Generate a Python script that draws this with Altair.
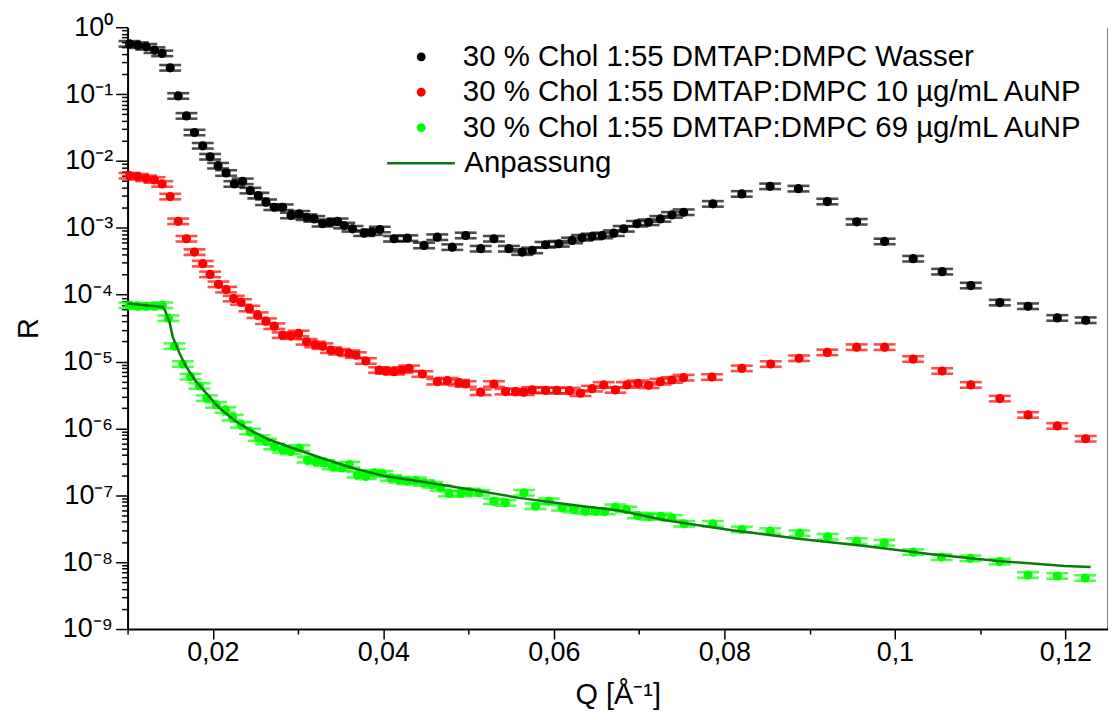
import json
import altair as alt
import pandas as pd

# ---------------- data ----------------
black_q = [0.01023, 0.01121, 0.01219, 0.01316, 0.01406, 0.0150, 0.01594, 0.01691, 0.01785, 0.01882,
           0.01968, 0.02062, 0.02156, 0.02253, 0.0235, 0.0244, 0.02534, 0.02624, 0.02721, 0.02819,
           0.02917, 0.03014, 0.031, 0.0319, 0.03287, 0.03374, 0.03463, 0.03541, 0.03638, 0.03775,
           0.03865, 0.03959, 0.04126, 0.04282, 0.04478, 0.04633, 0.04809, 0.04966, 0.05142, 0.05297,
           0.05473, 0.05629, 0.05746, 0.05903, 0.06059, 0.06214, 0.06331, 0.06448, 0.06566, 0.06703,
           0.0682, 0.06975, 0.07112, 0.07249, 0.07385, 0.07522, 0.07865, 0.08205, 0.08537, 0.08869,
           0.09208, 0.09552, 0.0988, 0.10215, 0.10555, 0.10891, 0.11231, 0.11562, 0.11905, 0.12238]
black_r = [0.564, 0.539, 0.509, 0.454, 0.406, 0.247, 0.0937, 0.0472, 0.0266, 0.01685,
           0.01155, 0.00849, 0.0066, 0.00453, 0.00495, 0.0036, 0.00303, 0.00241, 0.00203, 0.00203,
           0.00153, 0.00162, 0.00144, 0.00136, 0.00115, 0.00121, 0.00125, 0.00108, 0.000966, 0.000831,
           0.00086, 0.000943, 0.000686, 0.0007, 0.000545, 0.000724, 0.000514, 0.000768, 0.000487, 0.000686,
           0.000487, 0.000433, 0.000459, 0.000558, 0.000577, 0.000647, 0.00071, 0.000742, 0.000768, 0.000831,
           0.000966, 0.00115, 0.00121, 0.00136, 0.00156, 0.00171, 0.00228, 0.00321, 0.00417, 0.00385,
           0.00247, 0.00123, 0.000625, 0.000345, 0.000221, 0.000137, 7.62e-5, 6.72e-5, 4.49e-5, 4.15e-5]

red_q = [0.01023, 0.01121, 0.01219, 0.01316, 0.01406, 0.0150, 0.01594, 0.01691, 0.01785, 0.01882,
         0.01968, 0.02066, 0.02156, 0.02245, 0.02331, 0.02429, 0.02526, 0.02624, 0.02721, 0.02819,
         0.02917, 0.03006, 0.031, 0.03201, 0.03287, 0.03385, 0.03482, 0.036, 0.03678, 0.03795,
         0.03951, 0.04029, 0.04126, 0.04224, 0.04302, 0.04458, 0.04633, 0.04751, 0.04888, 0.04966,
         0.05142, 0.05297, 0.05434, 0.05552, 0.05649, 0.05746, 0.05903, 0.06035, 0.06184, 0.06313,
         0.06448, 0.06585, 0.06722, 0.06858, 0.06987, 0.07112, 0.07249, 0.07385, 0.07522, 0.07854,
         0.08205, 0.08544, 0.08877, 0.09208, 0.09552, 0.0988, 0.10215, 0.10555, 0.10891, 0.11231,
         0.11562, 0.11905, 0.12238]
red_r = [0.00602, 0.00581, 0.00549, 0.00519, 0.00453, 0.00293, 0.00125, 0.000686, 0.000433, 0.000291,
         0.000201, 0.000143, 0.000119, 8.75e-5, 7.78e-5, 6.21e-5, 4.93e-5, 4.01e-5, 3.38e-5, 2.48e-5,
         2.4e-5, 2.63e-5, 1.97e-5, 1.8e-5, 1.7e-5, 1.48e-5, 1.4e-5, 1.33e-5, 1.25e-5, 1.02e-5,
         7.47e-6, 7.22e-6, 7.05e-6, 7.47e-6, 7.91e-6, 6.51e-6, 5.0e-6, 5.17e-6, 4.83e-6, 4.62e-6,
         3.48e-6, 4.62e-6, 3.55e-6, 3.55e-6, 3.48e-6, 3.76e-6, 3.7e-6, 3.7e-6, 3.67e-6, 3.36e-6,
         3.93e-6, 4.47e-6, 3.76e-6, 4.47e-6, 4.73e-6, 4.42e-6, 5.0e-6, 5.3e-6, 5.74e-6, 5.87e-6,
         7.91e-6, 9.18e-6, 1.12e-5, 1.37e-5, 1.64e-5, 1.64e-5, 1.09e-5, 7.22e-6, 4.47e-6, 2.79e-6,
         1.59e-6, 1.09e-6, 7.0e-7]

green_q = [0.01023, 0.01121, 0.01219, 0.01316, 0.01406, 0.0148, 0.0155, 0.01648, 0.01738, 0.01843,
           0.01929, 0.02039, 0.02148, 0.02233, 0.02331, 0.02437, 0.02537, 0.02624, 0.02721, 0.02819,
           0.02917, 0.03014, 0.03111, 0.0321, 0.03307, 0.03404, 0.03514, 0.036, 0.03697, 0.03795,
           0.03892, 0.03989, 0.04088, 0.04185, 0.04282, 0.04381, 0.04478, 0.04575, 0.04673, 0.0477,
           0.04911, 0.05005, 0.05122, 0.05297, 0.05434, 0.05649, 0.05786, 0.05941, 0.06097, 0.06234,
           0.06371, 0.06488, 0.06597, 0.06722, 0.06851, 0.06984, 0.07121, 0.07256, 0.07385, 0.0753,
           0.07865, 0.08205, 0.08537, 0.08881, 0.09212, 0.09552, 0.09876, 0.10215, 0.10547, 0.10886,
           0.11231, 0.11562, 0.11905, 0.12233]
green_r = [6.95e-5, 6.72e-5, 6.72e-5, 6.72e-5, 6.95e-5, 4.45e-5, 1.7e-5, 9.18e-6, 5.94e-6, 4.31e-6,
           2.83e-6, 2.25e-6, 1.89e-6, 1.45e-6, 1.13e-6, 8.99e-7, 7.17e-7, 6.38e-7, 5.37e-7, 4.8e-7,
           4.52e-7, 5.09e-7, 3.4e-7, 3.21e-7, 3.04e-7, 2.7e-7, 2.56e-7, 2.87e-7, 2.03e-7, 1.92e-7,
           2.16e-7, 2.1e-7, 1.82e-7, 1.71e-7, 1.62e-7, 1.67e-7, 1.53e-7, 1.44e-7, 1.29e-7, 1.06e-7,
           1.06e-7, 1.14e-7, 1.09e-7, 8.14e-8, 7.7e-8, 1.09e-7, 6.86e-8, 8.14e-8, 6.49e-8, 6.12e-8,
           5.78e-8, 5.78e-8, 5.71e-8, 6.62e-8, 6.12e-8, 4.98e-8, 4.77e-8, 4.86e-8, 4.6e-8, 3.75e-8,
           3.75e-8, 3.08e-8, 2.91e-8, 2.71e-8, 2.4e-8, 2.06e-8, 1.95e-8, 1.41e-8, 1.19e-8, 1.14e-8,
           1.02e-8, 6.42e-9, 6.21e-9, 5.79e-9]

fit_q = [0.0100, 0.01413, 0.01439, 0.01492, 0.0153, 0.01609, 0.01687, 0.01804, 0.0194, 0.02077,
         0.02273, 0.02467, 0.02663, 0.02936, 0.03248, 0.03638, 0.04029, 0.04419, 0.05005, 0.0559,
         0.06176, 0.06761, 0.07308, 0.08088, 0.08869, 0.0965, 0.1043, 0.11211, 0.11992, 0.12296]
fit_r = [7.37e-5, 6.56e-5, 5.85e-5, 3.92e-5, 2.34e-5, 1.33e-5, 8.37e-6, 5.0e-6, 3.17e-6, 2.01e-6,
         1.27e-6, 8.99e-7, 6.76e-7, 5.09e-7, 3.71e-7, 2.56e-7, 1.92e-7, 1.62e-7, 1.23e-7, 9.15e-8,
         7.27e-8, 5.92e-8, 4.24e-8, 3.01e-8, 2.24e-8, 1.74e-8, 1.31e-8, 1.04e-8, 8.74e-9, 8.45e-9]

rel_err = [0.10, 0.10, 0.10]

series_names = ["30 % Chol 1:55 DMTAP:DMPC Wasser",
                "30 % Chol 1:55 DMTAP:DMPC 10 µg/mL AuNP",
                "30 % Chol 1:55 DMTAP:DMPC 69 µg/mL AuNP"]
fit_name = "Anpassung"

x_tick_values = [0.01, 0.02, 0.03, 0.04, 0.05, 0.06, 0.07, 0.08, 0.09, 0.10, 0.11, 0.12]
x_tick_labels = ["0,02", "0,04", "0,06", "0,08", "0,1", "0,12"]
y_tick_labels = ["10⁰", "10⁻¹", "10⁻²", "10⁻³", "10⁻⁴", "10⁻⁵", "10⁻⁶", "10⁻⁷", "10⁻⁸", "10⁻⁹"]
y_tick_values = [1.0] + [float(f"{k}e{d}") for d in range(-1, -10, -1) for k in range(1, 10)]

# ---------------- styling ----------------
series_colors = ["#000000", "#ff0000", "#00ff00"]
fit_color = "#0b7a0b"
FONT = "Liberation Sans"
NARROW = "Liberation Sans Narrow, Liberation Sans"
LEGEND_FS = 29.5

rows = []
for name, qs, rs, e in zip(series_names, [black_q, red_q, green_q], [black_r, red_r, green_r], rel_err):
    for q, r in zip(qs, rs):
        rows.append({"series": name, "Q": q, "R": r, "lo": r / (1 + e), "hi": r * (1 + e)})
pts = pd.DataFrame(rows)
fit = pd.DataFrame({"Q": fit_q, "R": fit_r, "series": fit_name})

x_major_test = "round(datum.value*100) % 2 == 0"
y_major_test = "abs(log(datum.value)/LN10 - round(log(datum.value)/LN10)) < 0.001"

x_axis = alt.Axis(
    values=x_tick_values,
    labelExpr=f"{x_major_test} ? {json.dumps(x_tick_labels, ensure_ascii=False)}[round(datum.value*50) - 1] : ''",
    tickSize={"condition": {"test": x_major_test, "value": 10}, "value": 5},
    tickColor="black", tickWidth=1.5, domainColor="black", domainWidth=2,
    labelFont=NARROW, labelFontSize=27, labelColor="black", labelPadding=1, labelOverlap=False,
    title="Q [Å⁻¹]", titleFont=NARROW, titleFontSize=29, titleFontWeight="normal",
    titleColor="black", titlePadding=15, grid=False,
)
y_axis = alt.Axis(
    values=y_tick_values,
    labelExpr=f"{y_major_test} ? {json.dumps(y_tick_labels, ensure_ascii=False)}[round(-log(datum.value)/LN10)] : ''",
    tickSize={"condition": {"test": y_major_test, "value": 12}, "value": 6},
    tickColor="black", tickWidth=1.5, domainColor="black", domainWidth=2,
    labelFont=FONT, labelFontSize=27, labelColor="black", labelPadding=3, labelOverlap=False,
    title="R", titleFont=FONT, titleFontSize=29, titleFontWeight="normal",
    titleColor="black", titlePadding=19, grid=False,
)
y_axis_right = alt.Axis(
    orient="right", values=y_tick_values, labels=False, title=None,
    tickSize={"condition": {"test": y_major_test, "value": 12}, "value": 6},
    tickColor="black", tickWidth=1.5, domainColor="black", domainWidth=2, grid=False,
)

x_scale = alt.Scale(domain=[0.01, 0.125], nice=False, zero=False)
y_scale = alt.Scale(type="log", domain=[1e-9, 1], nice=False)

x_enc = alt.X("Q:Q", scale=x_scale, axis=x_axis)

color_scale = alt.Scale(domain=series_names, range=series_colors)
pts_legend = alt.Legend(
    title=None, orient="none", legendX=280, legendY=15,
    labelFont=FONT, labelFontSize=LEGEND_FS, labelColor="black", labelLimit=0,
    symbolType="circle", symbolSize=80, symbolStrokeWidth=0, labelOffset=27,
    rowPadding=4.5, padding=0,
)

base = alt.Chart(pts)
rules = base.mark_rule(strokeWidth=2).encode(
    x=x_enc, y=alt.Y("lo:Q", scale=y_scale, axis=y_axis), y2="hi:Q",
    color=alt.Color("series:N", scale=color_scale, legend=None),
)
cap_hi = base.mark_tick(orient="horizontal", size=22, thickness=2.6).encode(
    x=x_enc, y=alt.Y("hi:Q", scale=y_scale, axis=y_axis),
    color=alt.Color("series:N", scale=color_scale, legend=None),
)
cap_lo = base.mark_tick(orient="horizontal", size=22, thickness=2.6).encode(
    x=x_enc, y=alt.Y("lo:Q", scale=y_scale, axis=y_axis),
    color=alt.Color("series:N", scale=color_scale, legend=None),
)
dots = base.mark_circle(size=85, opacity=1).encode(
    x=x_enc, y=alt.Y("R:Q", scale=y_scale, axis=y_axis),
    color=alt.Color("series:N", scale=color_scale, legend=pts_legend),
)
inner = alt.layer(dots, rules, cap_hi, cap_lo)

fit_line = alt.Chart(fit).mark_line(strokeWidth=2.5).encode(
    x=x_enc, y=alt.Y("R:Q", scale=y_scale, axis=None),
    color=alt.Color("series:N", scale=alt.Scale(domain=[fit_name], range=[fit_color]),
                    legend=alt.Legend(title=None, orient="none", legendX=259, legendY=101,
                                      labelFont=FONT, labelFontSize=LEGEND_FS, labelColor="black",
                                      labelLimit=0, symbolType="stroke", symbolSize=4624,
                                      symbolStrokeWidth=2.5, labelOffset=8, padding=0)),
)

right_axis = alt.Chart(fit).mark_point(opacity=0).encode(
    x=x_enc, y=alt.Y("R:Q", scale=y_scale, axis=y_axis_right),
)

chart = (
    alt.layer(inner, fit_line, right_axis)
    .resolve_scale(color="independent", y="independent")
    .properties(width=984, height=604,
                autosize=alt.AutoSizeParams(type="none"),
                padding={"left": 120, "top": 18, "right": 0, "bottom": 80},
                background="white")
    .configure_view(stroke=None)
)

chart.save("out.html", embed_options={"renderer": "svg", "actions": False})
